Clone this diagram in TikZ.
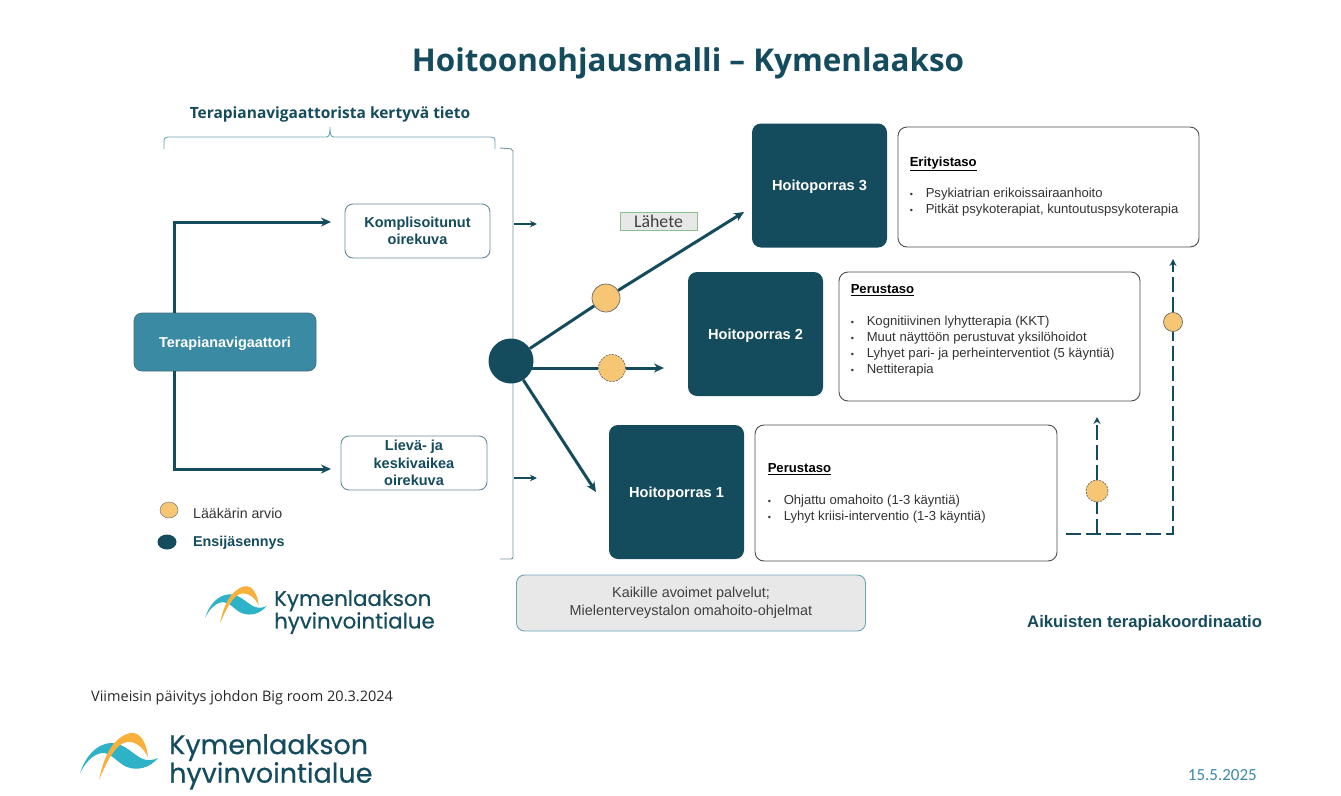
\documentclass[tikz,border=0pt]{standalone}
\usepackage{fontspec}
\setmainfont{Liberation Sans}
\newfontfamily\titlefont{Open Sans}
\newfontfamily\logofont[FakeBold=0.4]{Poppins}
\newfontfamily\slidefont{Carlito}
\usetikzlibrary{arrows.meta,positioning,shapes.geometric}

\definecolor{petrol}{RGB}{20,75,93}
\definecolor{navteal}{RGB}{58,138,163}
\definecolor{sand}{RGB}{246,198,116}
\definecolor{bracketline}{RGB}{112,165,180}
\definecolor{wave}{RGB}{46,178,200}
\definecolor{sun}{RGB}{248,176,60}
\definecolor{panelgrey}{RGB}{232,232,232}

\newcommand{\listitem}[1]{\makebox[16pt][l]{\small •}#1}

\begin{document}
\begin{tikzpicture}[
  x=1pt, y=-1pt,
  step box/.style={fill=petrol, rounded corners=9pt, inner sep=0pt, text=white, text depth=0pt, font=\fontsize{14.6}{16}\selectfont\bfseries},
  info box/.style={draw=black!70, line width=0.9pt, rounded corners=9pt, fill=white, inner sep=0pt},
  info text/.style={inner sep=0pt, align=left, text=black!80, font=\fontsize{13.1}{16}\selectfont},
  state box/.style={draw=petrol!65, line width=0.9pt, rounded corners=8pt, fill=white, align=center, inner sep=0pt, text=petrol, font=\fontsize{14.5}{17.5}\selectfont\bfseries},
  doctor/.style={circle, draw=black!60, fill=sand, inner sep=0pt, line width=0.7pt},
  doctor dashed/.style={doctor, dash pattern=on 2pt off 1.2pt},
  flow/.style={draw=petrol, line width=3pt, -{Stealth[length=10pt,width=9pt]}},
  plainflow/.style={draw=petrol, line width=3pt},
  short/.style={draw=petrol, line width=1.6pt, -{Stealth[length=7pt,width=6.5pt]}},
  followup/.style={draw=petrol, line width=1.6pt, dash pattern=on 15pt off 5pt},
  logo/.pic={
    \fill[wave] (5,48) .. controls (10,33) and (20,19) .. (36,18)
      .. controls (50,18) and (58,30) .. (68,34) .. controls (73,36) and (79,35) .. (83,33)
      .. controls (75,43) and (62,46) .. (52,42) .. controls (42,38) and (36,27) .. (27,28)
      .. controls (18,29) and (10,38) .. (5,48) -- cycle;
    \fill[sun] (24,55) .. controls (28,35) and (36,13) .. (55,8)
      .. controls (66,6) and (72,20) .. (73,32) .. controls (68,22) and (60,16) .. (52,17)
      .. controls (41,18) and (31,38) .. (24,55) -- cycle;
  },
  logotext/.style={anchor=north west, inner sep=0pt, align=left, text=petrol, transform shape, font=\logofont\fontsize{27}{24}\selectfont}
]
\useasboundingbox (0,0) rectangle (1341,795);

% titles
\node[font=\titlefont\fontsize{31.4}{36}\selectfont\bfseries, text=petrol] (title) at (688,63) {Hoitoonohjausmalli – Kymenlaakso};
\node[font=\titlefont\fontsize{15.5}{18}\selectfont\bfseries, text=petrol] (gathered) at (330,114) {Terapianavigaattorista kertyvä tieto};

% brace and bracket
\draw[bracketline, line width=0.9pt] (164,149) -- (164,142) .. controls (164,138) and (165,137) .. (168,137)
  -- (326,137) .. controls (329,137) and (330,135) .. (330,127) .. controls (330,135) and (331,137) .. (334,137)
  -- (491,137) .. controls (494,137) and (495,138) .. (495,142) -- (495,149);
\draw[petrol!60, line width=0.9pt, rounded corners=2pt] (500,148) -- (513,149) -- (513,559) -- (500,559);

% left side
\node[fill=navteal, draw=petrol!80, line width=0.7pt, rounded corners=8pt, minimum width=182pt, minimum height=58pt, inner sep=0pt, text=white, text depth=0pt, font=\fontsize{14.4}{16}\selectfont\bfseries] (nav) at (225,342) {Terapianavigaattori};
\node[state box, minimum width=145pt, minimum height=54pt] (complex) at (417.5,231) {Komplisoitunut\\oirekuva};
\node[state box, minimum width=146pt, minimum height=54pt] (mild) at (414,463) {Lievä- ja\\keskivaikea\\oirekuva};

\coordinate (navup) at (174,313);
\coordinate (navdown) at (174,371);
\coordinate (complexin) at (331,222);
\coordinate (mildin) at (331,469);
\draw[flow] (navup) |- (complexin);
\draw[flow] (navdown) |- (mildin);

\coordinate (bracketa) at (514,224);
\coordinate (bracketb) at (514,478);
\coordinate (bracketaend) at (537,224);
\coordinate (bracketbend) at (537,478);
\draw[short] (bracketa) -- (bracketaend);
\draw[short] (bracketb) -- (bracketbend);

% legend
\node[ellipse, draw=black!60, fill=sand, minimum width=18pt, minimum height=16pt, inner sep=0pt] (legenddoc) at (169,510) {};
\node[ellipse, fill=petrol, minimum width=19pt, minimum height=15pt, inner sep=0pt] (legendfirst) at (167,542) {};
\node[anchor=west, inner sep=0pt, text=black!80, font=\fontsize{14.2}{16}\selectfont] (legenddoctxt) at (193,513.5) {Lääkärin arvio};
\node[anchor=west, inner sep=0pt, text=petrol, font=\fontsize{14.3}{16}\selectfont\bfseries] (legendfirsttxt) at (193,542.5) {Ensijäsennys};

% steps
\node[step box, minimum width=135pt, minimum height=124pt] (step3) at (819.5,185.5) {Hoitoporras 3};
\node[step box, minimum width=135pt, minimum height=124pt] (step2) at (755.5,334) {Hoitoporras 2};
\node[step box, minimum width=135pt, minimum height=134pt] (step1) at (676.5,492) {Hoitoporras 1};

\node[info box, minimum width=301pt, minimum height=120pt] (info3) at (1048.5,187) {};
\node[info box, minimum width=301pt, minimum height=129pt] (info2) at (989.5,336.5) {};
\node[info box, minimum width=302pt, minimum height=136pt] (info1) at (906,493) {};

\node[info text, below right=30pt and 12pt of info3.north west] (info3txt) {\textcolor{black}{\underline{\textbf{Erityistaso}}}\\[15.5pt]
  \listitem{Psykiatrian erikoissairaanhoito}\\
  \listitem{Pitkät psykoterapiat, kuntoutuspsykoterapia}};
\node[info text, below right=13pt and 12pt of info2.north west] (info2txt) {\textcolor{black}{\underline{\textbf{Perustaso}}}\\[16pt]
  \listitem{Kognitiivinen lyhytterapia (KKT)}\\
  \listitem{Muut näyttöön perustuvat yksilöhoidot}\\
  \listitem{Lyhyet pari- ja perheinterventiot (5 käyntiä)}\\
  \listitem{Nettiterapia}};
\node[info text, below right=39pt and 13pt of info1.north west] (info1txt) {\textcolor{black}{\underline{\textbf{Perustaso}}}\\[16pt]
  \listitem{Ohjattu omahoito (1-3 käyntiä)}\\
  \listitem{Lyhyt kriisi-interventio (1-3 käyntiä)}};

% routes from first assessment
\node[circle, fill=petrol, minimum size=45pt, inner sep=0pt] (first) at (511,361) {};
\node[doctor, minimum size=28pt] (doc3) at (606,298) {};
\node[doctor dashed, minimum size=27pt] (doc2) at (612,368) {};
\coordinate (step3in) at (744,212);
\coordinate (step2in) at (664,368);
\coordinate (step1in) at (596,492);
\draw[plainflow] (first) -- (doc3);
\draw[flow] (doc3) -- (step3in);
\draw[plainflow] (first |- doc2) -- (doc2);
\draw[flow] (doc2) -- (step2in);
\draw[flow] (first) -- (step1in);

\node[draw=green!45!black!45, fill=panelgrey, line width=0.7pt, minimum width=77pt, minimum height=18pt, inner sep=0pt, text=black!75, font=\slidefont\fontsize{17.8}{18}\selectfont] (referral) at (658.5,221.5) {Lähete};

% follow-up
\coordinate (followstart) at (1066,534);
\coordinate (followjoin) at (1097,534);
\coordinate (followcorner) at (1173,534);
\coordinate (followlow) at (1097,417);
\coordinate (followhigh) at (1173,259);
\node[doctor dashed, minimum size=22pt] (doc1) at (1097,491) {};
\node[doctor, minimum size=19pt] (doc0) at (1173,322) {};
\draw[followup] (followstart) -- (followcorner) -- (doc0);
\draw[followup] (followjoin) -- (doc1);
\draw[followup, -{Stealth[length=7pt,width=7pt]}] (doc1) -- (followlow);
\draw[followup, -{Stealth[length=7pt,width=7pt]}] (doc0) -- (followhigh);

% bottom
\node[fill=panelgrey, draw=bracketline, line width=0.9pt, rounded corners=8pt, minimum width=349pt, minimum height=56pt, inner sep=0pt, align=center, text=black!75, font=\fontsize{14.4}{18}\selectfont] (open) at (691,603) {Kaikille avoimet palvelut;\\Mielenterveystalon omahoito-ohjelmat};
\node[anchor=west, inner sep=0pt, text=petrol, font=\fontsize{16.7}{18}\selectfont\bfseries] (coord) at (1027,623) {Aikuisten terapiakoordinaatio};
\node[anchor=west, inner sep=0pt, text=black!85, font=\titlefont\fontsize{14.5}{16}\selectfont] (updated) at (91,698) {Viimeisin päivitys johdon Big room 20.3.2024};
\node[anchor=east, inner sep=0pt, text=navteal, font=\slidefont\fontsize{17}{18}\selectfont] (date) at (1257,775) {15.5.2025};

% logos
\pic[scale=0.79] at (201,580) {logo};
\node[logotext, scale=0.79] (logosmall) at (274,590) {Kymenlaakson\\hyvinvointialue};
\pic at (75,725) {logo};
\node[logotext] (logobig) at (169,734) {Kymenlaakson\\hyvinvointialue};

\end{tikzpicture}
\end{document}
